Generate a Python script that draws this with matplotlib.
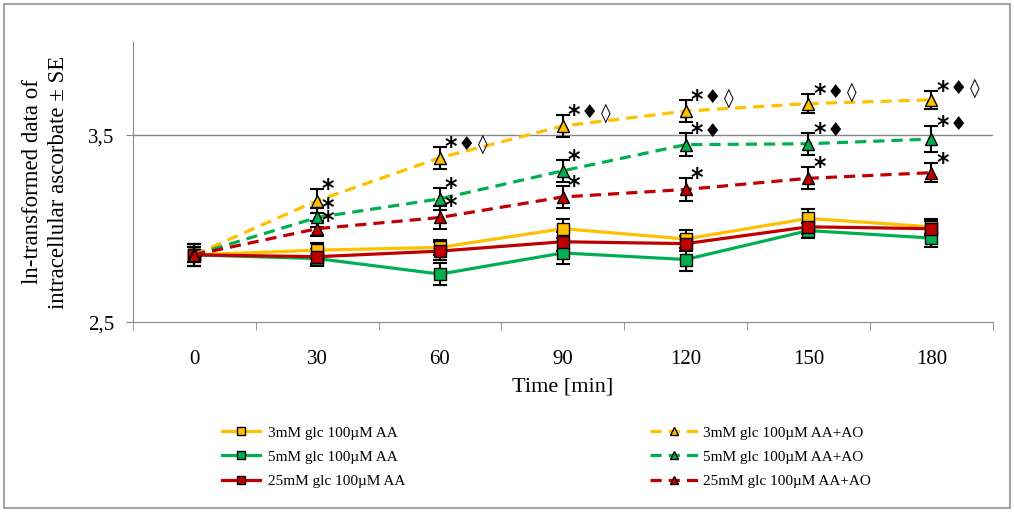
import matplotlib
matplotlib.use("Agg")
from matplotlib import pyplot as plt
from matplotlib.patches import Rectangle

plt.rcParams['font.family'] = ['Liberation Serif', 'DejaVu Sans']

# time points (min)
times = [0, 30, 60, 90, 120, 150, 180]

# ln-transformed intracellular ascorbate, solid = AA, dashed = AA+AO
aa_3 = [2.86, 2.885, 2.90, 3.00, 2.945, 3.055, 3.01]
aa_5 = [2.86, 2.84, 2.757, 2.87, 2.835, 2.99, 2.95]
aa_25 = [2.86, 2.85, 2.88, 2.93, 2.92, 3.01, 3.00]
ao_3 = [2.86, 3.15, 3.38, 3.55, 3.63, 3.67, 3.69]
ao_5 = [2.86, 3.06, 3.16, 3.31, 3.45, 3.455, 3.48]
ao_25 = [2.86, 3.00, 3.06, 3.17, 3.21, 3.27, 3.30]

# standard errors
se_aa_3 = [0.06, 0.04, 0.04, 0.05, 0.05, 0.05, 0.04]
se_aa_5 = [0.06, 0.04, 0.06, 0.06, 0.06, 0.04, 0.05]
se_aa_25 = [0.06, 0.04, 0.05, 0.05, 0.04, 0.04, 0.04]
se_ao_3 = [0.04, 0.065, 0.06, 0.06, 0.06, 0.05, 0.05]
se_ao_5 = [0.04, 0.05, 0.06, 0.06, 0.06, 0.06, 0.07]
se_ao_25 = [0.04, 0.04, 0.06, 0.06, 0.06, 0.06, 0.05]

# significance marks
marks_3 = ["", "*", "* \u2666 \u25ca", "* \u2666 \u25ca", "* \u2666 \u25ca", "* \u2666 \u25ca", "* \u2666 \u25ca"]
marks_5 = ["", "*", "*", "*", "* \u2666", "* \u2666", "* \u2666"]
marks_25 = ["", "*", "*", "*", "*", "*", "*"]

yellow = "#FFC000"
green = "#00B050"
red = "#C00000"

fig = plt.figure(figsize=(10.14, 5.12), dpi=100)
fig.patches.append(Rectangle((0.004, 0.008), 0.992, 0.984, transform=fig.transFigure,
                             fill=False, edgecolor="#a6a6a6", linewidth=1.5))
ax = fig.add_axes([0.131, 0.371, 0.848, 0.547])

series = [
    (aa_3, se_aa_3, yellow, "-", "s", "3mM glc 100\u00b5M AA"),
    (aa_5, se_aa_5, green, "-", "s", "5mM glc 100\u00b5M AA"),
    (aa_25, se_aa_25, red, "-", "s", "25mM glc 100\u00b5M AA"),
    (ao_3, se_ao_3, yellow, (0, (3.5, 2.2)), "^", "3mM glc 100\u00b5M AA+AO"),
    (ao_5, se_ao_5, green, (0, (3.5, 2.2)), "^", "5mM glc 100\u00b5M AA+AO"),
    (ao_25, se_ao_25, red, (0, (3.5, 2.2)), "^", "25mM glc 100\u00b5M AA+AO"),
]

handles = []
for vals, err, col, ls, mk, lab in series:
    ax.errorbar(times, vals, yerr=err, fmt="none", ecolor="black",
                elinewidth=1.5, capsize=5, capthick=1.5, zorder=3)
    h, = ax.plot(times, vals, color=col, linestyle=ls, linewidth=2.3,
                 marker=mk, markersize=8, markerfacecolor=col,
                 markeredgecolor="black", markeredgewidth=1, label=lab, zorder=4)
    handles.append(h)

# significance symbols next to the upper cap of each AO error bar
for vals, err, marks in [(ao_3, se_ao_3, marks_3), (ao_5, se_ao_5, marks_5),
                         (ao_25, se_ao_25, marks_25)]:
    for t, v, e, m in zip(times, vals, err, marks):
        for i, tok in enumerate(m.split()):
            if tok == "*":
                ax.annotate(tok, (t, v + e), xytext=(11, 0), textcoords="offset pixels",
                            ha="center", va="center", fontsize=17, fontweight="bold",
                            family=["DejaVu Sans"], zorder=5)
            else:
                ax.annotate(tok, (t, v + e), xytext=(11 + 16 * i, 2), textcoords="offset pixels",
                            ha="center", va="center", fontsize=14,
                            family=["DejaVu Sans"], zorder=5)

ax.set_xlim(-15, 195)
ax.set_ylim(2.5, 4.0)
ax.set_xticks(times)
ax.set_xticklabels([str(t) for t in times], fontsize=15)
ax.set_xticks(range(-15, 196, 30), minor=True)
ax.tick_params(axis="x", which="major", length=0, pad=20)
ax.tick_params(axis="x", which="minor", length=6, color="#868686", direction="out")
ax.set_yticks([2.5, 3.5])
ax.set_yticklabels(["2,5", "3,5"], fontsize=15)
ax.tick_params(axis="y", length=5, color="#868686", pad=8)
ax.axhline(3.5, color="#868686", linewidth=1, zorder=1)

for s in ["top", "right"]:
    ax.spines[s].set_visible(False)
for s in ["left", "bottom"]:
    ax.spines[s].set_color("#868686")

ax.set_xlabel("Time [min]", fontsize=16, labelpad=6)
ax.set_ylabel("ln-transformed data of\nintracellular ascorbate \u00b1 SE", fontsize=16.5,
              labelpad=14, linespacing=1.3)

leg1 = fig.legend(handles=handles[:3], loc="upper left", bbox_to_anchor=(222 / 1014, 1 - 426 / 512),
                  frameon=False, fontsize=11, handlelength=2.5, labelspacing=0.68,
                  handletextpad=0.5, borderpad=0, borderaxespad=0, markerscale=0.75)
leg2 = fig.legend(handles=handles[3:], loc="upper left", bbox_to_anchor=(650 / 1014, 1 - 426 / 512),
                  frameon=False, fontsize=11, handlelength=3.2, labelspacing=0.68,
                  handletextpad=0.3, borderpad=0, borderaxespad=0, markerscale=0.75)

fig.savefig("out.png", dpi=100)
